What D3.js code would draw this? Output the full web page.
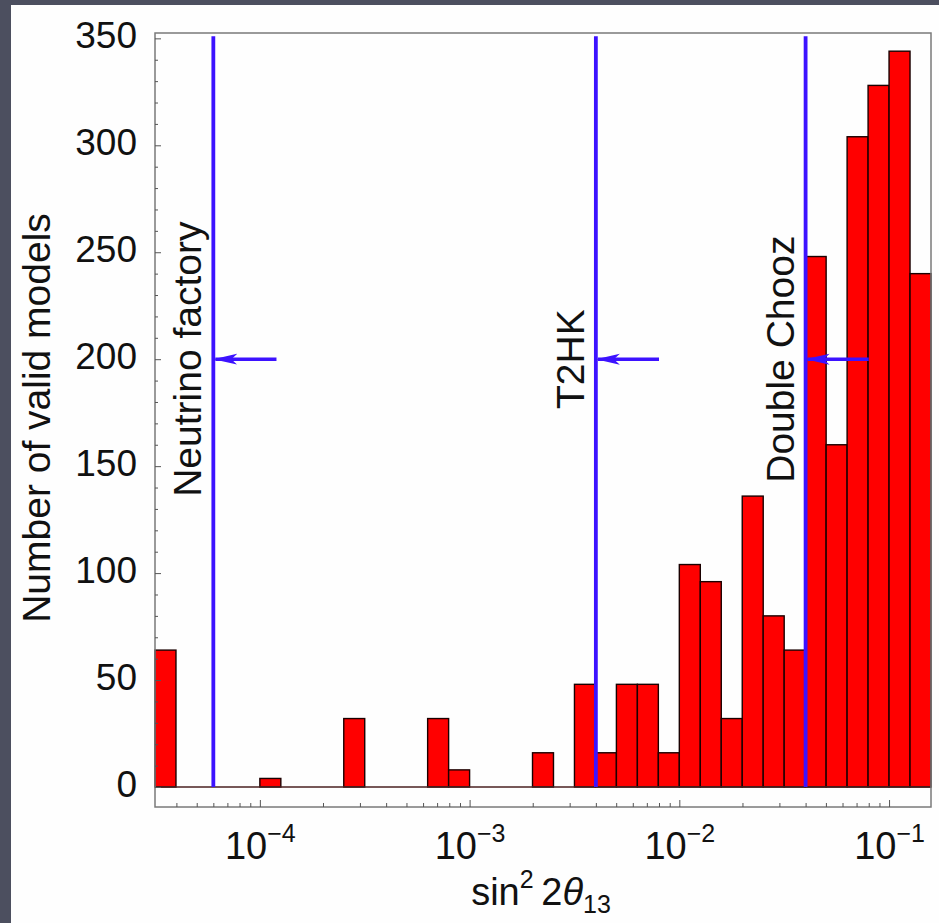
<!DOCTYPE html>
<html>
<head>
<meta charset="utf-8">
<script src="https://cdn.jsdelivr.net/npm/d3@7"></script>
<style>
  html, body { margin: 0; padding: 0; background: #4c4f5f; }
  svg { display: block; }
  text { font-family: "Liberation Sans", Arial, Helvetica, sans-serif; fill: #111; }
</style>
</head>
<body>
<svg id="chart" width="939" height="923"></svg>
<script>
// histogram bins: lower edge of each bin as log10(sin^2 2theta13), bins are 0.1 decade wide
const binLog = [-4.5, -4.4, -4.3, -4.2, -4.1, -4.0, -3.9, -3.8, -3.7, -3.6,
                -3.5, -3.4, -3.3, -3.2, -3.1, -3.0, -2.9, -2.8, -2.7, -2.6,
                -2.5, -2.4, -2.3, -2.2, -2.1, -2.0, -1.9, -1.8, -1.7, -1.6,
                -1.5, -1.4, -1.3, -1.2, -1.1, -1.0, -0.9];
const counts = [64, 0, 0, 0, 0, 4, 0, 0, 0, 32,
                0, 0, 0, 32, 8, 0, 0, 0, 16, 0,
                48, 16, 48, 48, 16, 104, 96, 32, 136, 80,
                64, 248, 160, 304, 328, 344, 240];
const binWidth = 0.1;

// experiment sensitivity limits (vertical lines, arrows at 200)
const experiments = ['Neutrino factory', 'T2HK', 'Double Chooz'];
const limits = [6e-5, 4e-3, 4e-2];
const arrowLevel = 200;

const yTicks = [0, 50, 100, 150, 200, 250, 300, 350];
const xTicks = [1e-4, 1e-3, 1e-2, 1e-1];
const xTickExp = ['\u22124', '\u22123', '\u22122', '\u22121'];

const svg = d3.select('#chart');

// white slide panel
svg.append('rect').attr('x', 11).attr('y', 5).attr('width', 928).attr('height', 918).attr('fill', '#fefefe');

const plotL = 155, plotR = 931, plotT = 33, plotB = 807, zeroY = 787;

const x = d3.scaleLog().domain([Math.pow(10, -4.5), Math.pow(10, -0.8)]).range([plotL, plotR]);
const y = d3.scaleLinear().domain([0, 352.5]).range([zeroY, plotT]);

// bars
const bins = binLog.map((b, i) => ({ lo: b, hi: b + binWidth, n: counts[i] }));
svg.append('g').selectAll('rect')
  .data(bins.filter(d => d.n > 0))
  .join('rect')
  .attr('x', d => x(Math.pow(10, d.lo)))
  .attr('width', d => x(Math.pow(10, d.hi)) - x(Math.pow(10, d.lo)))
  .attr('y', d => y(d.n))
  .attr('height', d => y(0) - y(d.n))
  .attr('fill', '#ff0000')
  .attr('stroke', '#1a0000')
  .attr('stroke-width', 1.4);

// baseline of empty bins
svg.append('line')
  .attr('x1', plotL).attr('x2', plotR)
  .attr('y1', y(0)).attr('y2', y(0))
  .attr('stroke', '#4a2020').attr('stroke-width', 1.4);

// frame
svg.append('rect')
  .attr('x', plotL).attr('y', plotT)
  .attr('width', plotR - plotL).attr('height', plotB - plotT)
  .attr('fill', 'none').attr('stroke', '#7a7a7a').attr('stroke-width', 1.5);

// y axis (ticks inside)
const yMinor = d3.range(0, 351, 10).filter(v => v % 50 !== 0);
const gyMinor = svg.append('g').attr('transform', `translate(${plotL},0)`)
  .call(d3.axisLeft(y).tickValues(yMinor).tickSizeInner(-3).tickSizeOuter(0).tickFormat(''));
const gy = svg.append('g').attr('transform', `translate(${plotL},0)`)
  .call(d3.axisLeft(y).tickValues(yTicks).tickSizeInner(-6).tickSizeOuter(0).tickPadding(18));
[gy, gyMinor].forEach(g => {
  g.select('.domain').remove();
  g.selectAll('line').attr('stroke', '#555');
});
gy.selectAll('text')
  .attr('font-size', 37).attr('dy', '0.25em')
  .style('font-family', '"Liberation Sans", Arial, sans-serif').attr('fill', '#111');

// x axis (log, ticks inside)
const xMinor = [];
[-5, -4, -3, -2, -1].forEach(e => {
  [2, 3, 4, 5, 6, 7, 8, 9].forEach(m => {
    const v = m * Math.pow(10, e);
    if (v > x.domain()[0] && v < x.domain()[1]) xMinor.push(v);
  });
});
const gxMinor = svg.append('g').attr('transform', `translate(0,${plotB})`)
  .call(d3.axisBottom(x).tickValues(xMinor).tickSizeInner(-4).tickSizeOuter(0).tickFormat(''));
const gx = svg.append('g').attr('transform', `translate(0,${plotB})`)
  .call(d3.axisBottom(x).tickValues(xTicks).tickSizeInner(-7).tickSizeOuter(0).tickFormat(''));
[gx, gxMinor].forEach(g => {
  g.select('.domain').remove();
  g.selectAll('line').attr('stroke', '#555');
});
gx.selectAll('.tick').each(function (d, i) {
  const t = d3.select(this).append('text')
    .attr('y', 52).attr('text-anchor', 'middle')
    .attr('font-size', 38).attr('fill', '#111');
  t.append('tspan').text('10');
  t.append('tspan').attr('font-size', 25).attr('dy', -17).text(xTickExp[i]);
});

// blue limit lines, arrows and labels
const blue = '#3c12ff';
svg.append('defs').append('marker')
  .attr('id', 'head').attr('viewBox', '0 0 24 12')
  .attr('refX', 22).attr('refY', 6)
  .attr('markerWidth', 24).attr('markerHeight', 12)
  .attr('markerUnits', 'userSpaceOnUse').attr('orient', 'auto')
  .append('path').attr('d', 'M0,0.5 L24,6 L0,11.5 L6,6 Z').attr('fill', blue);

const gl = svg.append('g');
limits.forEach((v, i) => {
  gl.append('line')
    .attr('x1', x(v)).attr('x2', x(v))
    .attr('y1', y(351)).attr('y2', y(0))
    .attr('stroke', blue).attr('stroke-width', 3.8);
  gl.append('line')
    .attr('x1', x(2 * v)).attr('x2', x(v) + 2)
    .attr('y1', y(arrowLevel)).attr('y2', y(arrowLevel))
    .attr('stroke', blue).attr('stroke-width', 3.6)
    .attr('marker-end', 'url(#head)');
  gl.append('text')
    .attr('transform', `translate(${x(v) - 12},${y(arrowLevel)}) rotate(-90)`)
    .attr('text-anchor', 'middle')
    .attr('font-size', 39)
    .text(experiments[i]);
});

// axis titles
svg.append('text')
  .attr('transform', `translate(50,${(plotT + plotB) / 2 - 2}) rotate(-90)`)
  .attr('text-anchor', 'middle').attr('font-size', 39)
  .text('Number of valid models');

const xt = svg.append('text')
  .attr('x', 541).attr('y', 905)
  .attr('text-anchor', 'middle').attr('font-size', 38);
xt.append('tspan').text('sin');
xt.append('tspan').attr('font-size', 25).attr('dy', -17).text('2');
xt.append('tspan').attr('dy', 17).text('\u20092');
xt.append('tspan').attr('font-style', 'italic').text('\u03b8');
xt.append('tspan').attr('font-size', 25).attr('dy', 8).text('13');
</script>
</body>
</html>
